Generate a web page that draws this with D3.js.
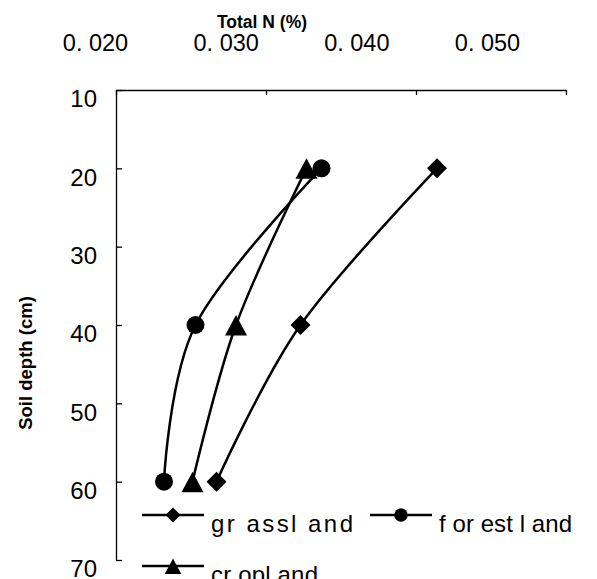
<!DOCTYPE html>
<html>
<head>
<meta charset="utf-8">
<script src="https://cdn.jsdelivr.net/npm/d3@7"></script>
<style>
  body { margin: 0; background: #fff; }
  text { font-family: "Liberation Sans", Arial, sans-serif; fill: #000; }
</style>
</head>
<body>
<div id="chart"></div>
<script>
// depths (cm) where total N was measured
var depths = [20, 40, 60];
var grassland = [0.0414, 0.0323, 0.0267];
var forestland = [0.0337, 0.0253, 0.0232];
var cropland = [0.0327, 0.0280, 0.0251];

var seriesNames = ["gr assl and", "f or est l and", "cr opl and"];
var xTicks = [0.020, 0.030, 0.040, 0.050];
var xTickLabels = ["0. 020", "0. 030", "0. 040", "0. 050"];
var yTicks = [10, 20, 30, 40, 50, 60, 70];

var series = [
  { name: seriesNames[0], values: grassland, shape: "diamond" },
  { name: seriesNames[1], values: forestland, shape: "circle" },
  { name: seriesNames[2], values: cropland, shape: "triangle" }
];

var W = 597, H = 579;
var margin = { top: 90, right: 31, bottom: 19, left: 116 },
    width = W - margin.left - margin.right,
    height = H - margin.top - margin.bottom;

var svg = d3.select("#chart").append("svg")
    .attr("width", W)
    .attr("height", H);

var g = svg.append("g")
    .attr("transform", "translate(" + margin.left + "," + margin.top + ")");

var x = d3.scaleLinear().domain([0.02, 0.05]).range([0, width]);
var y = d3.scaleLinear().domain([10, 70]).range([0, height]);
// tick labels in the original sit left of their ticks, spread a bit tighter
var xLab = d3.scaleLinear().domain([0.02, 0.05]).range([-21, 371]);

// top axis
var xAxis = g.append("g")
    .call(d3.axisTop(x).tickValues(xTicks).tickSizeInner(-5).tickSizeOuter(0)
      .tickFormat(function(d, i) { return xTickLabels[i]; }));
xAxis.select(".domain").attr("stroke", "#000").attr("stroke-width", 1.3);
xAxis.selectAll(".tick line").attr("stroke", "#000").attr("stroke-width", 1.3);
xAxis.selectAll(".tick text")
    .attr("x", function(d) { return xLab(d) - x(d); })
    .attr("y", -39)
    .attr("dy", 0)
    .style("font-size", "23.5px")
    .style("text-anchor", "middle");

// left axis
var yAxis = g.append("g")
    .call(d3.axisLeft(y).tickValues(yTicks).tickSizeInner(-6).tickSizeOuter(0));
yAxis.select(".domain").attr("stroke", "#000").attr("stroke-width", 1.3);
yAxis.selectAll(".tick line").attr("stroke", "#000").attr("stroke-width", 1.3);
yAxis.selectAll(".tick text")
    .attr("x", -19)
    .attr("dy", "0.7em")
    .style("font-size", "24px")
    .style("text-anchor", "end");

// axis titles
svg.append("text")
    .attr("x", 262).attr("y", 28)
    .style("font-size", "17.5px").style("font-weight", "bold")
    .style("text-anchor", "middle")
    .text("Total N (%)");

svg.append("text")
    .attr("transform", "translate(32,363) rotate(-90)")
    .style("font-size", "18.5px").style("font-weight", "bold")
    .style("text-anchor", "middle")
    .text("Soil depth (cm)");

function drawMarker(sel, shape, s) {
  if (shape === "diamond") {
    sel.append("path").attr("d", "M0," + (-s) + "L" + s + ",0L0," + s + "L" + (-s) + ",0Z");
  } else if (shape === "circle") {
    sel.append("circle").attr("r", s * 0.9);
  } else {
    sel.append("path").attr("d", "M0," + (-s) + "L" + (s * 1.1) + "," + (s * 1.05) + "L" + (-s * 1.1) + "," + (s * 1.05) + "Z");
  }
}

var line = d3.line()
    .x(function(d) { return x(d.v); })
    .y(function(d) { return y(d.depth); })
    .curve(d3.curveCardinal.tension(0));

series.forEach(function(s) {
  var pts = s.values.map(function(v, i) { return { v: v, depth: depths[i] }; });
  g.append("path")
      .datum(pts)
      .attr("fill", "none")
      .attr("stroke", "#000")
      .attr("stroke-width", 2.5)
      .attr("d", line);
  pts.forEach(function(p) {
    var m = g.append("g")
        .attr("transform", "translate(" + x(p.v) + "," + y(p.depth) + ")")
        .attr("fill", "#000");
    drawMarker(m, s.shape, 10);
  });
});

// legend
var legendPos = [[142, 515], [370, 515], [142, 566]];
var legendTextLen = [142, 133, 107];
series.forEach(function(s, i) {
  var lg = svg.append("g")
      .attr("transform", "translate(" + legendPos[i][0] + "," + legendPos[i][1] + ")");
  lg.append("line")
      .attr("x1", 0).attr("x2", 62)
      .attr("stroke", "#000").attr("stroke-width", 2.5);
  var m = lg.append("g").attr("transform", "translate(31,0)").attr("fill", "#000");
  drawMarker(m, s.shape, 7.5);
  lg.append("text")
      .attr("x", 69).attr("y", 17)
      .attr("textLength", legendTextLen[i])
      .attr("lengthAdjust", "spacing")
      .style("font-size", "24px")
      .text(s.name);
});
</script>
</body>
</html>
